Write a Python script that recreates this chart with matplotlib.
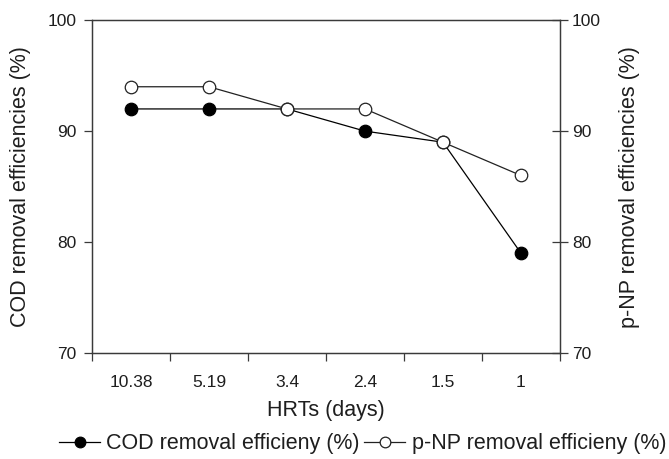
#!/usr/bin/env python3

import matplotlib
matplotlib.use("Agg")
import matplotlib.pyplot as plt
import numpy as np


# HRT categories and removal efficiencies (%)
hrt_labels = ["10.38", "5.19", "3.4", "2.4", "1.5", "1"]
cod_eff    = [92, 92, 92, 90, 89, 79]
pnp_eff    = [94, 94, 92, 92, 89, 86]

y_ticks    = [70, 80, 90, 100]

plt.rcParams['font.family'] = ['Liberation Sans', 'DejaVu Sans']
tick_fs  = 12.5
label_fs = 15.5

spine_col = '#3a3a3a'
text_col  = '#1e1e1e'

fig = plt.figure(figsize=(6.69, 4.59), dpi=100)
ax = fig.add_axes([0.1375, 0.231, 0.6995, 0.725])
ax2 = ax.twinx()

x = np.arange(len(hrt_labels))

l1, = ax.plot(x, cod_eff, '-o', color='black', lw=0.9, ms=9,
              mfc='black', mec='black', mew=0.9,
              label='COD removal efficieny (%)')
l2, = ax2.plot(x, pnp_eff, '-o', color='#222222', lw=0.9, ms=9,
               mfc='white', mec='#222222', mew=0.9,
               label='p-NP removal efficieny (%)')

for a in (ax, ax2):
  a.set_xlim(-0.5, len(hrt_labels) - 0.5)
  a.set_ylim(70, 100)
  a.set_yticks(y_ticks)
  for s in a.spines.values():
    s.set_color(spine_col)
    s.set_linewidth(0.9)

# ticks sit on the category boundaries, labels at the category centres
ax.set_xticks(np.arange(len(hrt_labels) + 1) - 0.5)
ax.set_xticklabels([])
ax.set_xticks(x, minor=True)
ax.set_xticklabels(hrt_labels, minor=True)
ax.tick_params(axis='x', which='major', direction='out', length=6,
               width=0.9, color=spine_col)
ax.tick_params(axis='x', which='minor', length=0, pad=16,
               labelsize=tick_fs, labelcolor=text_col)
ax.tick_params(axis='y', direction='out', length=6, width=0.9,
               color=spine_col, labelsize=tick_fs, labelcolor=text_col, pad=5)
ax2.tick_params(axis='y', direction='inout', length=11, width=0.9,
                color=spine_col, labelsize=tick_fs, labelcolor=text_col, pad=3)

ax.set_xlabel('HRTs (days)', fontsize=label_fs, color=text_col, labelpad=7)
ax.set_ylabel('COD removal efficiencies (%)', fontsize=label_fs,
              color=text_col, labelpad=12)
ax2.set_ylabel('p-NP removal efficiencies (%)', fontsize=label_fs,
               color=text_col, labelpad=13)

fig.legend(handles=[l1, l2], loc='center', bbox_to_anchor=(0.542, 0.033),
           ncol=2, frameon=False, fontsize=label_fs, handlelength=1.9,
           handletextpad=0.3, columnspacing=0.2, borderaxespad=0,
           borderpad=0, markerscale=0.85, labelcolor=text_col)

fig.savefig('out.png', dpi=100)
